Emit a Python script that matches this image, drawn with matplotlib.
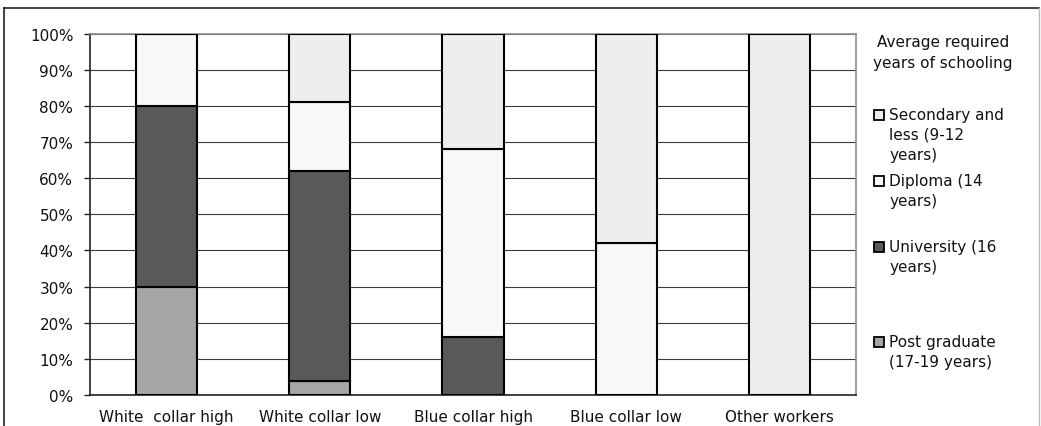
import numpy as np
import matplotlib
matplotlib.use("Agg")
import matplotlib.pyplot as plt
from matplotlib.lines import Line2D
from matplotlib.patches import Rectangle

plt.rcParams['font.family'] = ['DejaVu Sans']
FS = 11

# Data (percent of workers in each occupation group)
categories = ['White  collar high', 'White collar low', 'Blue collar high',
              'Blue collar low', 'Other workers']
post_graduate = [30, 4, 0, 0, 0]
university = [50, 58, 16, 0, 0]
diploma = [20, 19, 52, 42, 0]
secondary = [0, 19, 32, 58, 100]

series = [post_graduate, university, diploma, secondary]
colors = ['#a5a5a5', '#595959', '#f8f8f8', '#eeeeee']
legend_labels = ['Secondary and\nless (9-12\nyears)', 'Diploma (14\nyears)',
                 'University (16\nyears)', 'Post graduate\n(17-19 years)']
legend_colors = ['#eeeeee', '#f8f8f8', '#595959', '#a5a5a5']
yticks = np.arange(0, 101, 10)

W, H = 1041, 427
fig = plt.figure(figsize=(W / 100, H / 100), dpi=100)
ax = fig.add_axes([90 / W, 1 - 396 / H, (856 - 90) / W, (396 - 34.7) / H])

x = np.arange(len(categories))
bottom = np.zeros(len(categories))
for vals, c in zip(series, colors):
    ax.bar(x, vals, width=0.4, bottom=bottom, color=c, edgecolor='black',
           linewidth=1.5, zorder=3)
    bottom += np.array(vals)

ax.set_xlim(-0.5, len(categories) - 0.5)
ax.set_ylim(0, 100)
ax.set_yticks(yticks)
ax.set_yticklabels([f'{v}%' for v in yticks], fontsize=FS, color='#111111')
ax.set_xticks(x)
ax.set_xticklabels(categories, fontsize=FS, color='#111111')
ax.tick_params(axis='x', length=0, pad=10)
ax.tick_params(axis='y', length=4, width=1, color='#222222', pad=8)
ax.yaxis.grid(True, color='#3a3a3a', linewidth=0.8, zorder=0)
ax.set_axisbelow(True)
for s in ['top', 'right']:
    ax.spines[s].set_color('#8c8c8c')
    ax.spines[s].set_linewidth(1.2)
for s in ['left', 'bottom']:
    ax.spines[s].set_color('#222222')
    ax.spines[s].set_linewidth(1.2)

# Legend, placed by hand
fig.text(943 / W, 1 - 53 / H, 'Average required\nyears of schooling', ha='center',
         va='center', fontsize=FS, linespacing=1.45, color='#111111')
legend_y = [116, 182, 248, 343]
for lab, c, yy in zip(legend_labels, legend_colors, legend_y):
    fig.patches.append(Rectangle((874 / W, 1 - (yy + 5) / H), 10 / W, 10 / H,
                                 transform=fig.transFigure, facecolor=c,
                                 edgecolor='black', linewidth=1.3))
    fig.text(889 / W, 1 - (yy - 8) / H, lab, ha='left', va='top',
             fontsize=FS, linespacing=1.4, color='#111111')

# Outer chart frame
fig.lines.append(Line2D([3.5 / W, 3.5 / W], [0, 1 - 9 / H], transform=fig.transFigure,
                        color='#222222', linewidth=1.2))
fig.lines.append(Line2D([3.5 / W, 1039 / W], [1 - 9 / H, 1 - 9 / H],
                        transform=fig.transFigure, color='#222222', linewidth=1.2))
fig.lines.append(Line2D([1039 / W, 1039 / W], [0, 1 - 9 / H], transform=fig.transFigure,
                        color='#bbbbbb', linewidth=1.0))

fig.savefig('out.png', dpi=100)
